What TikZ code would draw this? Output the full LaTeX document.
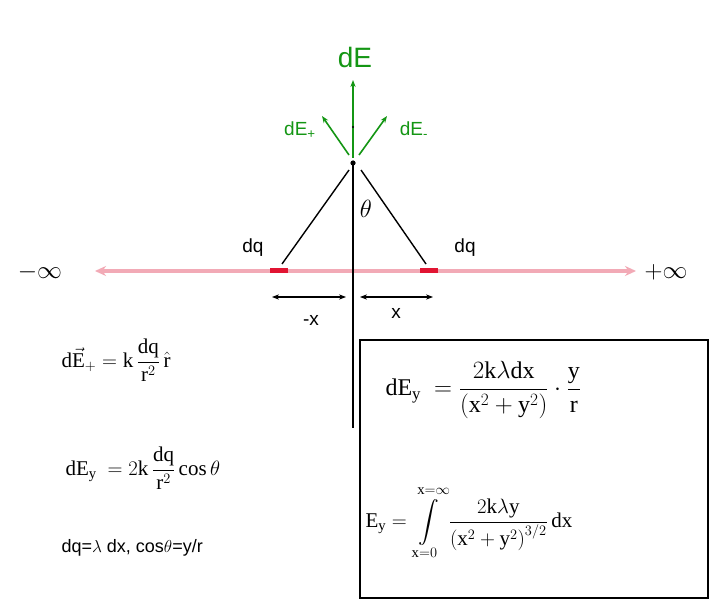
\documentclass[tikz,border=0pt]{standalone}
\usepackage{amsmath}
\usepackage{fontspec}
\setmainfont{Liberation Serif}
\newfontfamily\arial{Liberation Sans}
\usetikzlibrary{arrows.meta}
\definecolor{pinkax}{RGB}{242,170,182}
\definecolor{redseg}{RGB}{225,20,50}
\definecolor{grn}{RGB}{20,150,20}
\begin{document}
\begin{tikzpicture}[x=1pt,y=-1pt,
  lab/.style={font=\arial\fontsize{19}{21}\selectfont},
  glab/.style={font=\arial\fontsize{19}{21}\selectfont,text=grn},
  garr/.style={grn,line width=1.6pt,-{Stealth[length=7pt]}},
  darr/.style={black,line width=1.2pt,{Stealth[length=7pt]}-{Stealth[length=7pt]}},
  eq/.style={font=\fontsize{21}{24}\selectfont}]
\fill[white] (0,0) rectangle (720,612);
\useasboundingbox (0,0) rectangle (720,612);
% axis
\coordinate (L) at (95,271); \coordinate (R) at (636,271);
\draw[pinkax,line width=3.5pt,{Stealth[length=11pt,width=10pt]}-{Stealth[length=11pt,width=10pt]}] (L) -- (R);
\draw[redseg,line width=5pt] (270,271) -- (288,271);
\draw[redseg,line width=5pt] (420,271) -- (438,271);
% vertical
\coordinate (P) at (353,163);
\draw[line width=1.4pt] (353,162) -- (353,428);
\fill (P) circle (2.6pt);
\draw[line width=1.4pt] (349,170) -- (282,264);
\draw[line width=1.4pt] (361,170) -- (426,264);
% green
\draw[garr] (353,158) -- (353,80);
\draw[garr] (349,155) -- (322,116);
\draw[garr] (359,155) -- (387,116);
\fill (353,127) circle (1.2pt);
\node[glab,font=\arial\fontsize{28}{30}\selectfont] (dE) at (355,57) {dE};
\node[glab] (dEp) at (300,130) {dE\textsubscript{+}};
\node[glab] (dEm) at (414,130) {dE\textsubscript{-}};
\node[font=\fontsize{24}{26}\selectfont] (th) at (366,209) {$\theta$};
\node[lab] (dq1) at (253,248) {dq};
\node[lab] (dq2) at (465,248) {dq};
\node[font=\fontsize{28}{30}\selectfont] (minf) at (40,272) {$-\infty$};
\node[font=\fontsize{28}{30}\selectfont] (pinf) at (666,272) {$+\infty$};
\coordinate (a1) at (272,297); \coordinate (a2) at (346,297);
\coordinate (b1) at (360,297); \coordinate (b2) at (433,297);
\draw[darr] (a1) -- (a2);
\draw[darr] (b1) -- (b2);
\node[lab] (mx) at (311,320) {-x};
\node[lab] (xx) at (396,313) {x};
% left formulas
\node[eq,anchor=west] (f1) at (58,360) {d$\vec{\mathrm{E}}_{+} = \mathrm{k}\,\dfrac{\mathrm{dq}}{\mathrm{r}^2}\,\hat{\mathrm{r}}$};
\node[eq,anchor=west] (f2) at (62,468) {dE$_{\mathrm{y}}\ = 2\mathrm{k}\,\dfrac{\mathrm{dq}}{\mathrm{r}^2}\cos\theta$};
\node[font=\arial\fontsize{18}{20}\selectfont,anchor=west] (f3) at (58,548) {dq=$\lambda$ dx, cos$\theta$=y/r};
% box
\draw[line width=1.4pt] (360,340) rectangle (708,598);
\node[eq,anchor=west,font=\fontsize{24}{27}\selectfont] (f4) at (382,390) {dE$_{\mathrm{y}}\ =\dfrac{2\mathrm{k}\lambda\mathrm{dx}}{(\mathrm{x}^2+\mathrm{y}^2)}\cdot\dfrac{\mathrm{y}}{\mathrm{r}}$};
\node[eq,anchor=west] (f5) at (362,523) {E$_{\mathrm{y}}=\displaystyle\int\limits_{\mathrm{x}=0}^{\mathrm{x}=\infty}\frac{2\mathrm{k}\lambda\mathrm{y}}{\left(\mathrm{x}^2+\mathrm{y}^2\right)^{3/2}}\,\mathrm{dx}$};
\end{tikzpicture}
\end{document}
